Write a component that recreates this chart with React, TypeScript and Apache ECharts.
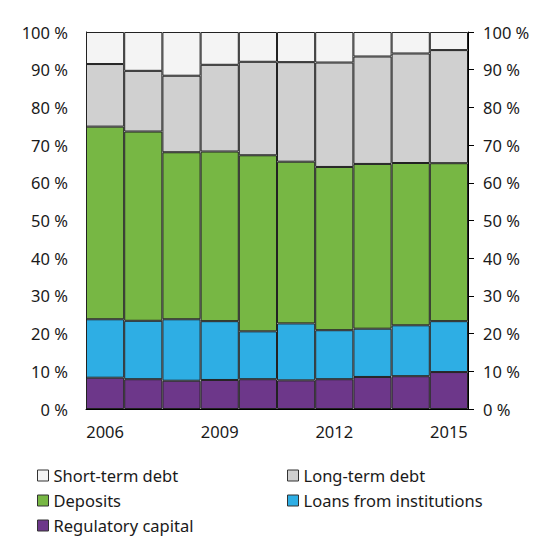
import { useEffect, useRef } from "react";
import * as echarts from "echarts";

const years = ["2006", "2007", "2008", "2009", "2010", "2011", "2012", "2013", "2014", "2015"];

const regulatoryCapital = [8.3, 7.9, 7.5, 7.7, 7.9, 7.6, 7.9, 8.5, 8.7, 9.8];
const loansFromInstitutions = [15.5, 15.5, 16.3, 15.6, 12.7, 15.1, 13.0, 12.8, 13.5, 13.5];
const deposits = [51.1, 50.2, 44.3, 45.0, 46.7, 42.9, 43.3, 43.7, 43.05, 41.9];
const longTermDebt = [16.6, 16.1, 20.3, 23.0, 24.8, 26.4, 27.7, 28.5, 29.05, 30.0];
const shortTermDebt = [8.5, 10.3, 11.6, 8.7, 7.9, 8.0, 8.1, 6.5, 5.7, 4.8];

const FONT = "'Noto Sans', sans-serif";

const seriesDefs = [
  { name: "Regulatory capital", data: regulatoryCapital, color: "#6D378A" },
  { name: "Loans from institutions", data: loansFromInstitutions, color: "#2EAEE4" },
  { name: "Deposits", data: deposits, color: "#77B744" },
  { name: "Long-term debt", data: longTermDebt, color: "#D0D0D0" },
  { name: "Short-term debt", data: shortTermDebt, color: "#F4F4F4" },
];

// legend slots: [name, left, top]
const legendSlots: [string, number, number][] = [
  ["Short-term debt", 37, 467],
  ["Long-term debt", 287, 467],
  ["Deposits", 37, 492],
  ["Loans from institutions", 287, 492],
  ["Regulatory capital", 37, 517],
];

export default function App() {
  const ref = useRef<HTMLDivElement>(null);

  useEffect(() => {
    document.body.style.margin = "0";
    if (!ref.current) return;
    const chart = echarts.init(ref.current, undefined, { renderer: "svg" });

    const yAxisBase = {
      type: "value" as const,
      min: 0,
      max: 100,
      interval: 10,
      splitLine: { show: false },
      axisLabel: {
        color: "#1a1a1a",
        fontSize: 16.5,
        fontFamily: FONT,
        formatter: (v: number) => `${v} %`,
      },
    };

    chart.setOption({
      animation: false,
      backgroundColor: "#ffffff",
      textStyle: { fontFamily: FONT },
      grid: { left: 86, right: 92, top: 32, bottom: 151 },
      legend: legendSlots.map(([name, left, top]) => ({
        data: [name],
        left,
        top,
        padding: 0,
        itemWidth: 11,
        itemHeight: 11,
        icon: "rect",
        selectedMode: false,
        itemStyle: { borderColor: "#333", borderWidth: 1 },
        textStyle: { fontSize: 16.5, color: "#1a1a1a", fontFamily: FONT },
      })),
      xAxis: {
        type: "category",
        data: years,
        axisLine: { show: true, lineStyle: { color: "#000", width: 1 } },
        axisTick: { show: false },
        axisLabel: {
          interval: 2,
          margin: 14,
          color: "#1a1a1a",
          fontSize: 16.5,
          fontFamily: FONT,
        },
      },
      yAxis: [
        {
          ...yAxisBase,
          position: "left",
          axisLine: { show: true, lineStyle: { color: "#000" } },
          axisTick: { show: false },
          axisLabel: { ...yAxisBase.axisLabel, margin: 18 },
        },
        {
          ...yAxisBase,
          position: "right",
          axisLine: { show: true, lineStyle: { color: "#000" } },
          axisTick: { show: true, length: 6, lineStyle: { color: "#000" } },
          axisLabel: { ...yAxisBase.axisLabel, margin: 15 },
        },
      ],
      series: seriesDefs.map((s) => ({
        name: s.name,
        type: "bar",
        stack: "total",
        data: s.data,
        barCategoryGap: 0,
        itemStyle: { color: s.color, borderColor: "#222", borderWidth: 1 },
        emphasis: { disabled: true },
      })),
    });

    return () => chart.dispose();
  }, []);

  return <div ref={ref} style={{ width: 560, height: 560 }} />;
}
